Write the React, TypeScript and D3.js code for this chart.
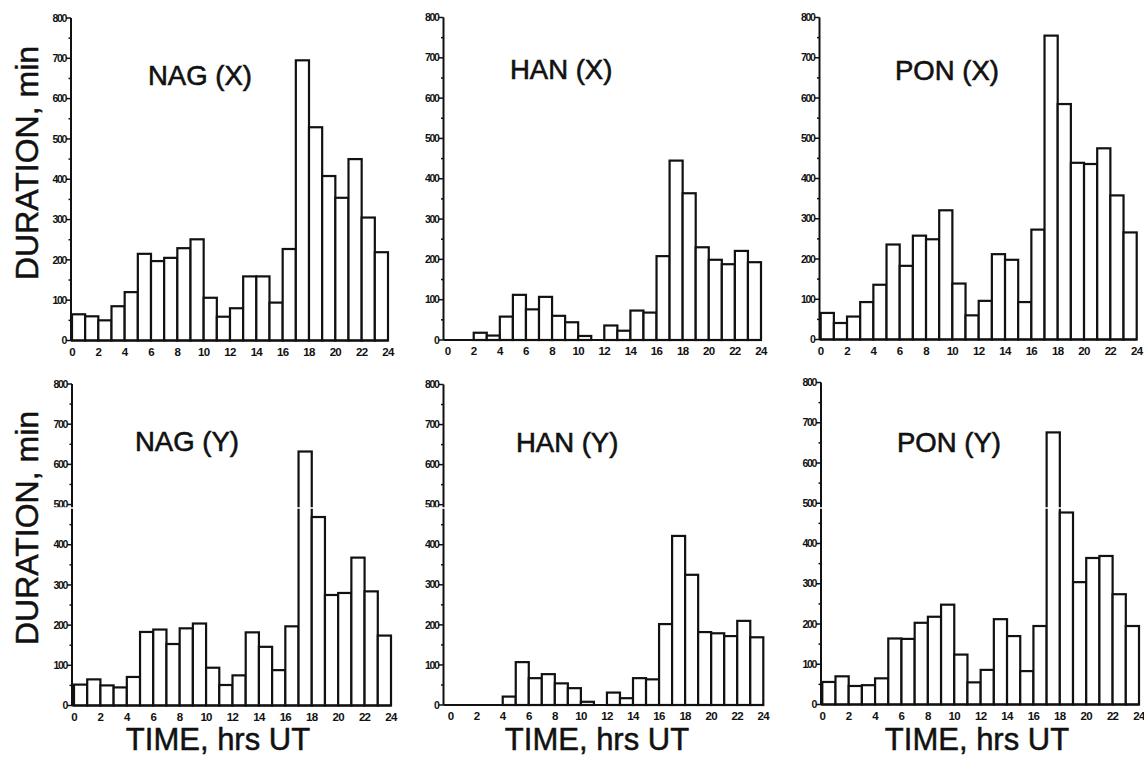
import React from "react";
import * as d3 from "d3";

// ---- data (minutes per UT hour bin, 0..23) ----
const hours = d3.range(24);
const nagX = [65, 60, 50, 85, 120, 215, 197, 205, 229, 251, 106, 59, 80, 159, 159, 94, 227, 695, 529, 408, 354, 450, 305, 219];
const hanX = [0, 0, 18, 11, 58, 112, 76, 107, 60, 44, 10, 0, 36, 23, 73, 68, 208, 445, 364, 230, 199, 188, 221, 193];
const ponX = [66, 41, 57, 93, 136, 236, 183, 258, 249, 321, 139, 60, 96, 212, 198, 93, 273, 755, 585, 439, 436, 475, 358, 266];
const nagY = [52, 65, 50, 45, 71, 183, 189, 153, 192, 204, 94, 51, 75, 182, 146, 88, 197, 632, 469, 275, 280, 368, 284, 174];
const hanY = [0, 0, 0, 0, 21, 107, 67, 77, 54, 42, 8, 0, 31, 17, 67, 64, 202, 422, 325, 182, 179, 172, 210, 169];
const ponY = [56, 70, 46, 48, 65, 164, 163, 203, 218, 248, 124, 55, 86, 212, 170, 83, 195, 676, 477, 304, 364, 369, 274, 195];

const yTicks = [0, 100, 200, 300, 400, 500, 600, 700, 800];
const yMinorTicks = [50, 150, 250, 350, 450, 550, 650, 750];
const xTicks = [0, 2, 4, 6, 8, 10, 12, 14, 16, 18, 20, 22, 24];

const titles = ["NAG (X)", "HAN (X)", "PON (X)", "NAG (Y)", "HAN (Y)", "PON (Y)"];
const series = [nagX, hanX, ponX, nagY, hanY, ponY];
const yLabel = "DURATION, min";
const xLabel = "TIME, hrs UT";

// ---- layout ----
const W = 1144;
const H = 757;
const layout = [
  { x0: 72, x1: 388, axisX: 71, yb: 340.5, yt: 18, tx: 148, ty: 85 },
  { x0: 447.6, x1: 761, axisX: 443.5, yb: 340, yt: 17.5, tx: 510, ty: 79 },
  { x0: 820.7, x1: 1136.7, axisX: 819.5, yb: 339.5, yt: 17.5, tx: 895, ty: 80 },
  { x0: 74, x1: 391, axisX: 72, yb: 705.5, yt: 384, tx: 135, ty: 451 },
  { x0: 450.6, x1: 763.3, axisX: 443.5, yb: 705, yt: 384.5, tx: 516, ty: 452 },
  { x0: 822.3, x1: 1139, axisX: 821, yb: 704.5, yt: 382.5, tx: 897, ty: 452 },
];

const FONT = "'Liberation Sans', Arial, Helvetica, sans-serif";
const INK = "#111";

function Panel({ idx }: { idx: number }) {
  const L = layout[idx];
  const data = series[idx];
  const xs = d3.scaleLinear().domain([0, 24]).range([L.x0, L.x1]);
  const ys = d3.scaleLinear().domain([0, 800]).range([L.yb, L.yt]);
  return (
    <g>
      {hours.map((h) =>
        data[h] > 0 ? (
          <rect
            key={h}
            x={xs(h)}
            y={ys(data[h])}
            width={xs(h + 1) - xs(h)}
            height={ys(0) - ys(data[h])}
            fill="#fff"
            stroke={INK}
            strokeWidth={2.2}
          />
        ) : null
      )}
      <line x1={L.axisX} x2={L.axisX} y1={ys(800)} y2={ys(0)} stroke={INK} strokeWidth={2} />
      <line x1={L.axisX} x2={xs(24)} y1={ys(0)} y2={ys(0)} stroke={INK} strokeWidth={2.2} />
      {yTicks.map((t) => (
        <g key={t}>
          <line x1={L.axisX - 5} x2={L.axisX} y1={ys(t)} y2={ys(t)} stroke={INK} strokeWidth={1.5} />
          <text
            x={L.axisX - 5}
            y={ys(t)}
            dy="0.35em"
            textAnchor="end"
            fontFamily={FONT}
            fontWeight="bold"
            fontSize={10.5}
            letterSpacing={-1.3}
            fill={INK}
          >
            {t}
          </text>
        </g>
      ))}
      {yMinorTicks.map((t) => (
        <line key={t} x1={L.axisX - 2.5} x2={L.axisX} y1={ys(t)} y2={ys(t)} stroke={INK} strokeWidth={1.5} />
      ))}
      {xTicks.map((t) => (
        <text
          key={t}
          x={xs(t)}
          y={ys(0) + 15}
          textAnchor="middle"
          fontFamily={FONT}
          fontWeight="bold"
          fontSize={11.5}
          letterSpacing={-0.7}
          fill={INK}
        >
          {t}
        </text>
      ))}
      <text
        x={L.tx}
        y={L.ty}
        fontFamily={FONT}
        fontSize={27.5}
        fill={INK}
        stroke={INK}
        strokeWidth={0.6}
      >
        {titles[idx]}
      </text>
    </g>
  );
}

export default function App() {
  const xTitleCenters = [218, 597, 977];
  const yTitleCenters = [163, 528];
  return (
    <svg
      width={W}
      height={H}
      viewBox={`0 0 ${W} ${H}`}
      style={{ position: "absolute", left: 0, top: 0, background: "#fff" }}
    >
      <rect x={0} y={0} width={W} height={H} fill="#fff" />
      {series.map((_, i) => (
        <Panel key={i} idx={i} />
      ))}
      {/* scan seam across the lower row */}
      <line x1={0} x2={W} y1={508} y2={508} stroke="#fff" strokeWidth={1.5} />
      {yTitleCenters.map((cy, i) => (
        <text
          key={i}
          transform={`translate(38, ${cy}) rotate(-90)`}
          textAnchor="middle"
          fontFamily={FONT}
          fontSize={32}
          fill={INK}
          stroke={INK}
          strokeWidth={0.5}
        >
          {yLabel}
        </text>
      ))}
      {xTitleCenters.map((cx, i) => (
        <text
          key={i}
          x={cx}
          y={750}
          textAnchor="middle"
          fontFamily={FONT}
          fontSize={31}
          fill={INK}
          stroke={INK}
          strokeWidth={0.5}
        >
          {xLabel}
        </text>
      ))}
    </svg>
  );
}
